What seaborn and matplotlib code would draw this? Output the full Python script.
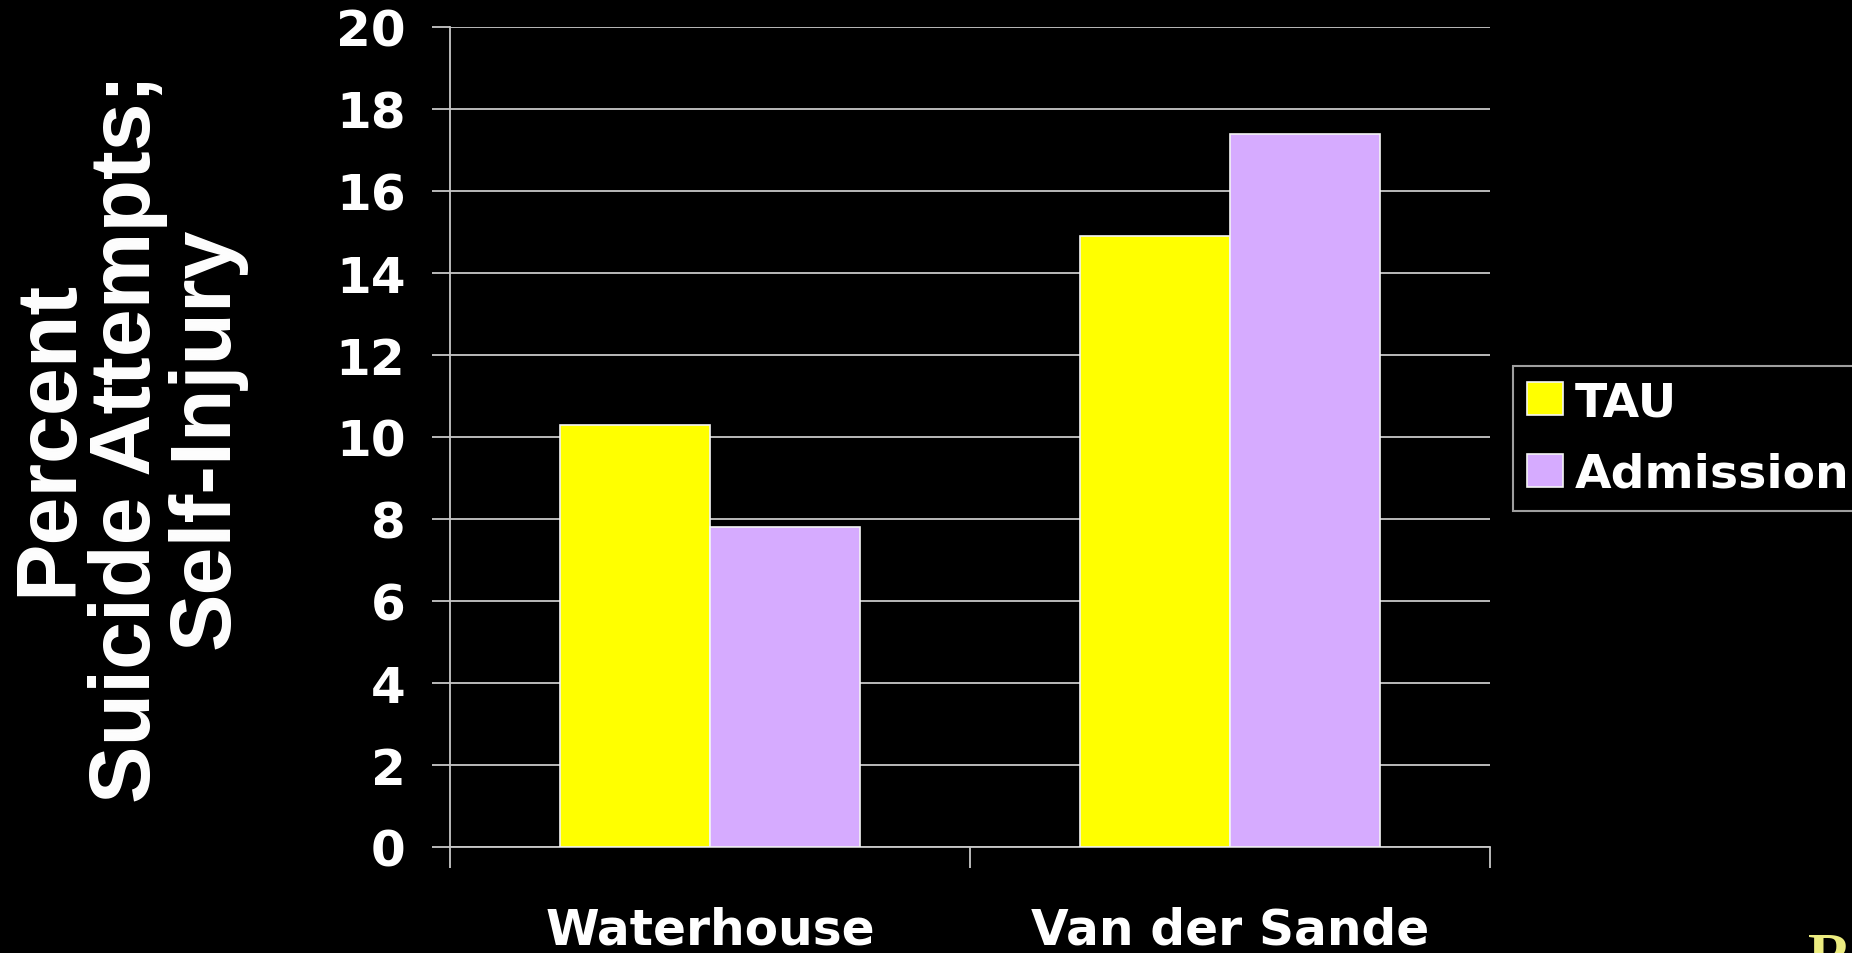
import matplotlib
matplotlib.use("Agg")
import matplotlib.pyplot as plt
import pandas as pd
import seaborn as sns

# values
studies = ["Waterhouse", "Van der Sande"]
groups = ["TAU", "Admission"]
tau = [10.3, 14.9]
admission = [7.8, 17.4]
y_ticks = [0, 2, 4, 6, 8, 10, 12, 14, 16, 18, 20]

W, H = 1852, 954
GRID = "#c8c8c8"

sns.set_theme(style="dark")
plt.rcParams["font.family"] = ["DejaVu Sans"]

df = pd.DataFrame({
    "study": studies * 2,
    "group": [groups[0]] * 2 + [groups[1]] * 2,
    "percent": tau + admission,
})

fig = plt.figure(figsize=(W / 100, H / 100), dpi=100, facecolor="black")
ax = fig.add_axes([450 / W, 1 - 848 / H, 1040 / W, 820 / H])
ax.set_facecolor("black")

sns.barplot(
    data=df, x="study", y="percent", hue="group", hue_order=groups,
    order=studies, palette={"TAU": "#FFFF00", "Admission": "#D6ABFF"},
    width=0.577, saturation=1, edgecolor="#f4f4f4", linewidth=1.2,
    errorbar=None, ax=ax, zorder=3,
)

ax.set_xlim(-0.5, 1.5)
ax.set_ylim(0, 20)
ax.set_yticks(y_ticks)
ax.set_yticklabels([str(t) for t in y_ticks])
ax.grid(False)
ax.yaxis.grid(True, color=GRID, linewidth=1.3)
ax.set_axisbelow(True)

for side in ["top", "right"]:
    ax.spines[side].set_visible(False)
ax.spines["left"].set_color(GRID)
ax.spines["bottom"].set_color(GRID)
ax.spines["left"].set_linewidth(1.3)
ax.spines["bottom"].set_linewidth(1.3)

ax.tick_params(axis="y", left=True, length=13, width=1.3, color=GRID,
               pad=19, labelsize=36, labelcolor="white")
for lab in ax.get_yticklabels():
    lab.set_fontweight("bold")

# category labels centred, boundary ticks as minor ticks
ax.set_xticks([0, 1])
ax.set_xticklabels(studies)
ax.tick_params(axis="x", which="major", length=0, pad=42, labelsize=35,
               labelcolor="white")
for lab in ax.get_xticklabels():
    lab.set_fontweight("bold")
ax.set_xticks([-0.5, 0.5, 1.5], minor=True)
ax.tick_params(axis="x", which="minor", bottom=True, length=15, width=1.3,
               color=GRID)
ax.set_xlabel("")
ax.set_ylabel("")

handles, labels = ax.get_legend_handles_labels()
ax.get_legend().remove()
leg = fig.legend(
    handles, labels, loc="upper left",
    bbox_to_anchor=(1513 / W, 1 - 367 / H), bbox_transform=fig.transFigure,
    borderaxespad=0, frameon=True, fancybox=False,
    prop={"family": "DejaVu Sans", "weight": "bold", "size": 34},
    handlelength=0.76, handleheight=0.7, handletextpad=0.25,
    labelspacing=0.56, borderpad=0.3,
)
leg.get_frame().set_facecolor("black")
leg.get_frame().set_edgecolor(GRID)
leg.get_frame().set_linewidth(1.5)
for t in leg.get_texts():
    t.set_color("white")

fig.text(128 / W, 1 - 438 / H, "Percent\nSuicide Attempts;\nSelf-Injury",
         rotation=90, ha="center", va="center", multialignment="center",
         color="white", family="Liberation Sans", weight="bold", size=62,
         linespacing=0.98)

# partial letter at the bottom-right corner of the slide
fig.text(1808 / W, 1 - 932 / H, "R", ha="left", va="top", color="#ecec80",
         family="Liberation Serif", weight="bold", size=44)

fig.savefig("out.png", dpi=100, facecolor="black")
